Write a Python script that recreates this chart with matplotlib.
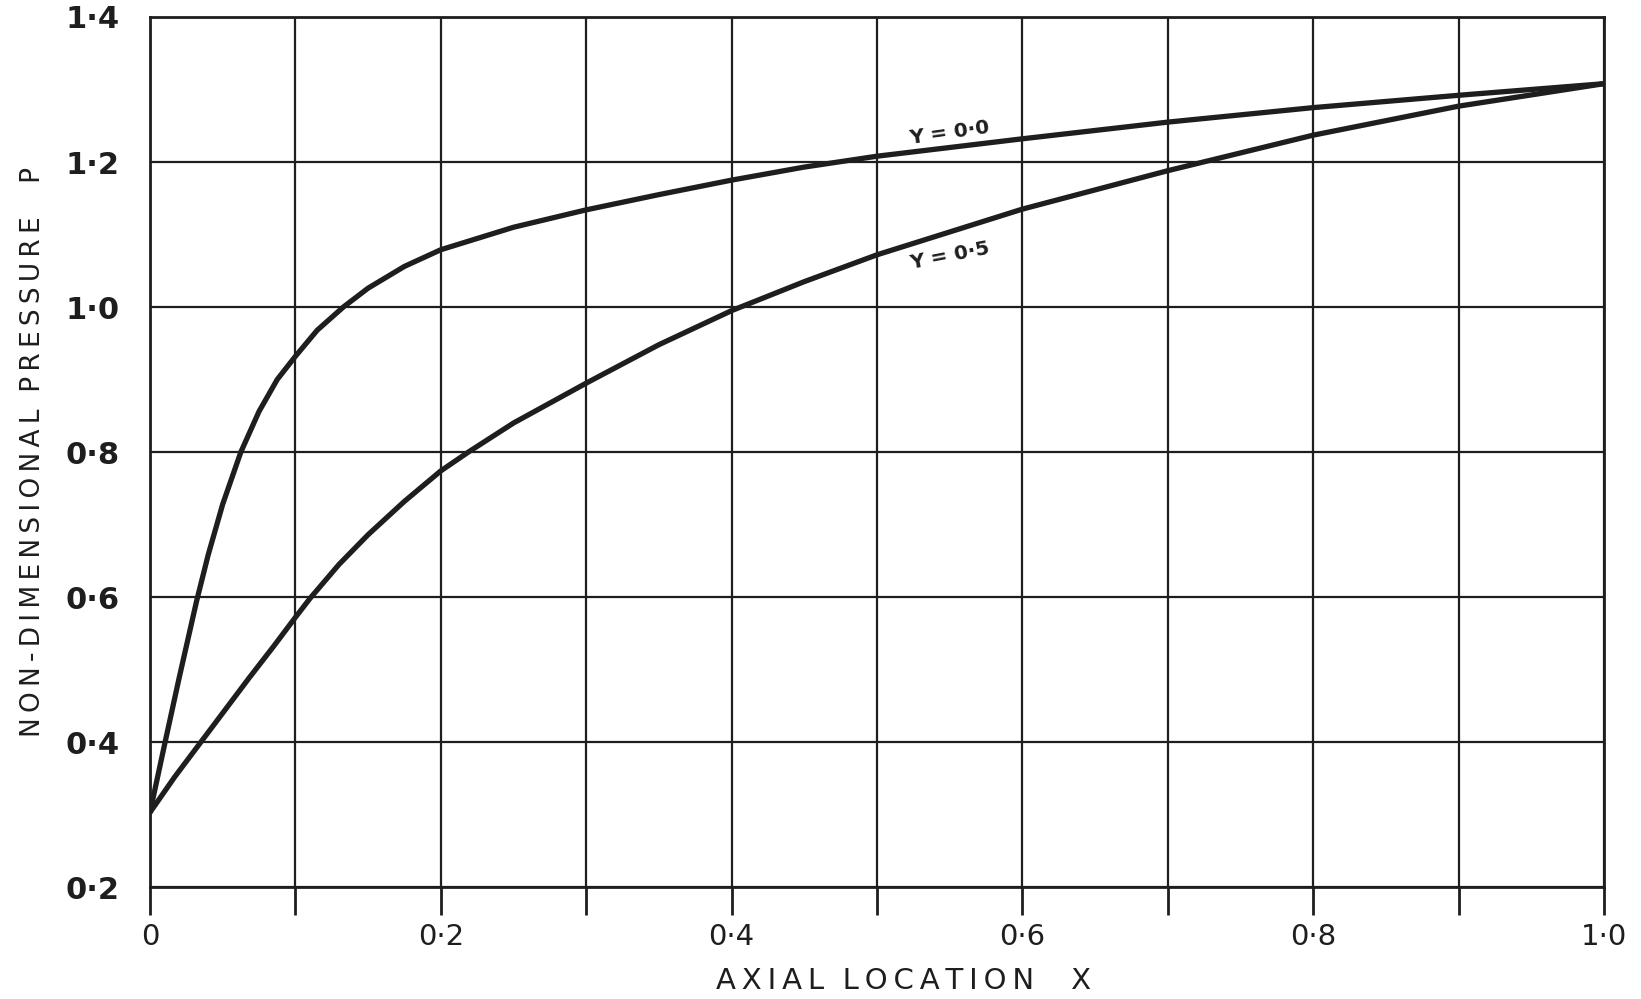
import numpy as np
import matplotlib
matplotlib.use("Agg")
import matplotlib.pyplot as plt

# Data
x_y00 = [0.0, 0.0104, 0.02, 0.032, 0.04, 0.05, 0.0625, 0.075, 0.0875, 0.10, 0.115,
         0.133, 0.15, 0.175, 0.20, 0.25, 0.30, 0.35, 0.40, 0.45, 0.50, 0.60, 0.70,
         0.80, 0.90, 1.00]
p_y00 = [0.303, 0.40, 0.488, 0.594, 0.658, 0.728, 0.80, 0.856, 0.90, 0.932, 0.968,
         1.0, 1.026, 1.056, 1.079, 1.11, 1.134, 1.155, 1.175, 1.193, 1.208, 1.232, 1.255,
         1.275, 1.292, 1.308]

x_y05 = [0.0, 0.017, 0.035, 0.05, 0.068, 0.085, 0.10, 0.11, 0.13, 0.15, 0.175, 0.20, 0.219,
         0.25, 0.30, 0.35, 0.40, 0.45, 0.50, 0.60, 0.70, 0.80, 0.90, 1.00]
p_y05 = [0.303, 0.352, 0.40, 0.44, 0.488, 0.532, 0.572, 0.598, 0.645, 0.686, 0.732, 0.774, 0.80,
         0.84, 0.895, 0.948, 0.995, 1.035, 1.072, 1.135, 1.188, 1.237, 1.277, 1.308]

x_ticks = [0.0, 0.1, 0.2, 0.3, 0.4, 0.5, 0.6, 0.7, 0.8, 0.9, 1.0]
x_tick_labels = ["0", "", "0·2", "", "0·4", "", "0·6", "", "0·8", "", "1·0"]
y_ticks = [0.2, 0.4, 0.6, 0.8, 1.0, 1.2, 1.4]
y_tick_labels = ["0·2", "0·4", "0·6", "0·8", "1·0", "1·2", "1·4"]


def spaced(words, gaps, letter_gap="\u2009"):
    out = letter_gap.join(words[0])
    for w, g in zip(words[1:], gaps):
        out += g + letter_gap.join(w)
    return out


ink = "#1e1e1e"
fig = plt.figure(figsize=(16.41, 9.99), dpi=100)
ax = fig.add_axes([0.0914, 0.112, 0.886, 0.871])

ax.plot(x_y00, p_y00, color=ink, lw=3.8, solid_joinstyle="round", solid_capstyle="round", zorder=3)
ax.plot(x_y05, p_y05, color=ink, lw=3.8, solid_joinstyle="round", solid_capstyle="round", zorder=3)

ax.set_xlim(0, 1.0)
ax.set_ylim(0.2, 1.4)
ax.set_xticks(x_ticks)
ax.set_xticklabels(x_tick_labels, fontsize=21, color=ink)
ax.set_yticks(y_ticks)
ax.set_yticklabels(y_tick_labels, fontsize=22, color=ink, fontweight="bold")
ax.tick_params(axis="x", length=20, width=2, color=ink, pad=6, direction="out")
ax.tick_params(axis="y", length=0, pad=22)
ax.grid(True, color=ink, lw=1.6)
for s in ax.spines.values():
    s.set_color(ink)
    s.set_linewidth(2.0)

ax.text(0.55, 1.24, "Y = 0·0", fontsize=14.5, fontweight="bold", color=ink,
        rotation=8, ha="center", va="center")
ax.text(0.55, 1.07, "Y = 0·5", fontsize=14.5, fontweight="bold", color=ink,
        rotation=11, ha="center", va="center")

ax.set_xlabel(spaced(["AXIAL", "LOCATION", "X"], ["  ", "    "]), fontsize=21, color=ink)
ax.xaxis.set_label_coords(0.518, -0.092)
ax.set_ylabel(spaced(["NON-DIMENSIONAL", "PRESSURE", "P"], ["  ", "    "]), fontsize=19,
              color=ink, labelpad=14)

fig.savefig("out.png", dpi=100, facecolor="white")
